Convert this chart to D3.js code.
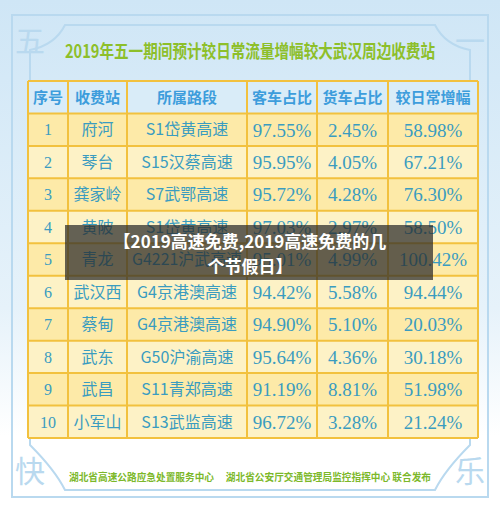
<!DOCTYPE html>
<html><head><meta charset="utf-8">
<script src="https://cdn.jsdelivr.net/npm/d3@7"></script>
<style>body{margin:0;}svg{display:block;}</style>
</head><body>
<svg id="chart" width="500" height="513"></svg>
<script>
const headers = ["序号", "收费站", "所属路段", "客车占比", "货车占比", "较日常增幅"];
const ids = ["1", "2", "3", "4", "5", "6", "7", "8", "9", "10"];
const stations = ["府河", "琴台", "龚家岭", "黄陂", "青龙", "武汉西", "蔡甸", "武东", "武昌", "小军山"];
const roads = ["S1岱黄高速", "S15汉蔡高速", "S7武鄂高速", "S1岱黄高速", "G4221沪武高速", "G4京港澳高速", "G4京港澳高速", "G50沪渝高速", "S11青郑高速", "S13武监高速"];
const passenger = ["97.55%", "95.95%", "95.72%", "97.03%", "95.01%", "94.42%", "94.90%", "95.64%", "91.19%", "96.72%"];
const freight = ["2.45%", "4.05%", "4.28%", "2.97%", "4.99%", "5.58%", "5.10%", "4.36%", "8.81%", "3.28%"];
const growth = ["58.98%", "67.21%", "76.30%", "58.50%", "100.42%", "94.44%", "20.03%", "30.18%", "51.98%", "21.24%"];

const svg = d3.select("#chart");
const W = 500, H = 513;
const colEdges = [28, 68, 127, 247, 317, 388, 478];
const rows = ids.map((d, i) => [d, stations[i], roads[i], passenger[i], freight[i], growth[i]]);

// background
const g = svg.append("defs").append("linearGradient").attr("id", "sky").attr("x1", 0).attr("y1", 0).attr("x2", 0).attr("y2", 1);
g.append("stop").attr("offset", "0").attr("stop-color", "#cfe6f6");
g.append("stop").attr("offset", "0.6").attr("stop-color", "#e6f2fa");
g.append("stop").attr("offset", "0.85").attr("stop-color", "#ffffff");
svg.append("rect").attr("width", W).attr("height", H).attr("fill", "url(#sky)");
svg.append("rect").attr("x", 12).attr("y", 15).attr("width", 476).attr("height", 482)
  .attr("fill", "none").attr("stroke", "#b9d9ef").attr("stroke-width", 2);
svg.append("path").attr("d", "M65,25 L435,25 Q445,45 470,50 L470,445 Q445,470 435,490 L65,490 Q55,470 30,445 L30,50 Q55,45 65,25 Z")
  .attr("fill", "none").attr("stroke", "#b9d9ef").attr("stroke-width", 2);
[["五", 30, 52], ["一", 470, 52], ["快", 30, 482], ["乐", 470, 482]].forEach(([t, x, y]) =>
  svg.append("text").attr("x", x).attr("y", y).attr("text-anchor", "middle")
    .attr("font-family", "Noto Sans CJK SC").attr("font-size", 30).attr("fill", "#b9d9ef").text(t));

svg.append("text").attr("x", 250).attr("y", 58).attr("text-anchor", "middle")
  .attr("font-family", "Noto Sans CJK SC").attr("font-weight", "bold").attr("font-size", 18).attr("fill", "#8dbf2a")
  .attr("textLength", 370).attr("lengthAdjust", "spacingAndGlyphs")
  .text("2019年五一期间预计较日常流量增幅较大武汉周边收费站");

const y = d3.scaleBand().domain(d3.range(11)).range([81, 438]);
const table = svg.append("g");
d3.range(11).forEach(r => {
  table.append("rect").attr("x", colEdges[0]).attr("y", y(r)).attr("width", colEdges[6] - colEdges[0]).attr("height", y.bandwidth())
    .attr("fill", r === 0 ? "#d9ecf8" : (r % 2 ? "#fdeaa8" : "#fdf2c6"));
});
d3.range(12).forEach(r => {
  const yy = r === 11 ? 438 : y(r);
  table.append("line").attr("x1", colEdges[0]).attr("x2", colEdges[6]).attr("y1", yy).attr("y2", yy)
    .attr("stroke", "#f2c13e").attr("stroke-width", 2);
});
colEdges.forEach(x => table.append("line").attr("x1", x).attr("x2", x).attr("y1", 81).attr("y2", 438)
  .attr("stroke", "#f2c13e").attr("stroke-width", 2));

[headers].concat(rows).forEach((row, r) => {
  row.forEach((t, c) => {
    table.append("text").attr("x", (colEdges[c] + colEdges[c + 1]) / 2).attr("y", y(r) + y.bandwidth() / 2)
      .attr("dy", "0.36em").attr("text-anchor", "middle")
      .attr("font-family", r === 0 || c === 1 || c === 2 ? "Noto Sans CJK SC" : "Liberation Serif")
      .attr("font-weight", r === 0 ? "bold" : "normal")
      .attr("font-size", r === 0 ? 15 : (c >= 3 ? 19 : 16))
      .attr("textLength", r > 0 && t.length > 8 ? colEdges[c + 1] - colEdges[c] - 10 : null)
      .attr("lengthAdjust", "spacingAndGlyphs")
      .attr("fill", r === 0 ? "#3d9ddc" : "#3a9cc0").text(t);
  });
});

svg.append("text").attr("x", 250).attr("y", 481).attr("text-anchor", "middle")
  .attr("font-family", "Noto Sans CJK SC").attr("font-weight", "bold").attr("font-size", 10).attr("fill", "#7cb82a")
  .attr("textLength", 362).attr("lengthAdjust", "spacingAndGlyphs")
  .text("湖北省高速公路应急处置服务中心　 湖北省公安厅交通管理局监控指挥中心 联合发布");

// overlay banner
svg.append("rect").attr("x", 65).attr("y", 225).attr("width", 368).attr("height", 55).attr("fill", "rgba(40,40,40,0.72)");
[["【2019高速免费,2019高速免费的几", 248], ["个节假日】", 273]].forEach(([t, yy]) =>
  svg.append("text").attr("x", 250).attr("y", yy).attr("text-anchor", "middle")
    .attr("font-family", "Noto Sans CJK SC").attr("font-weight", "bold").attr("font-size", 17).attr("fill", "#fff").text(t));
</script>
</body></html>
